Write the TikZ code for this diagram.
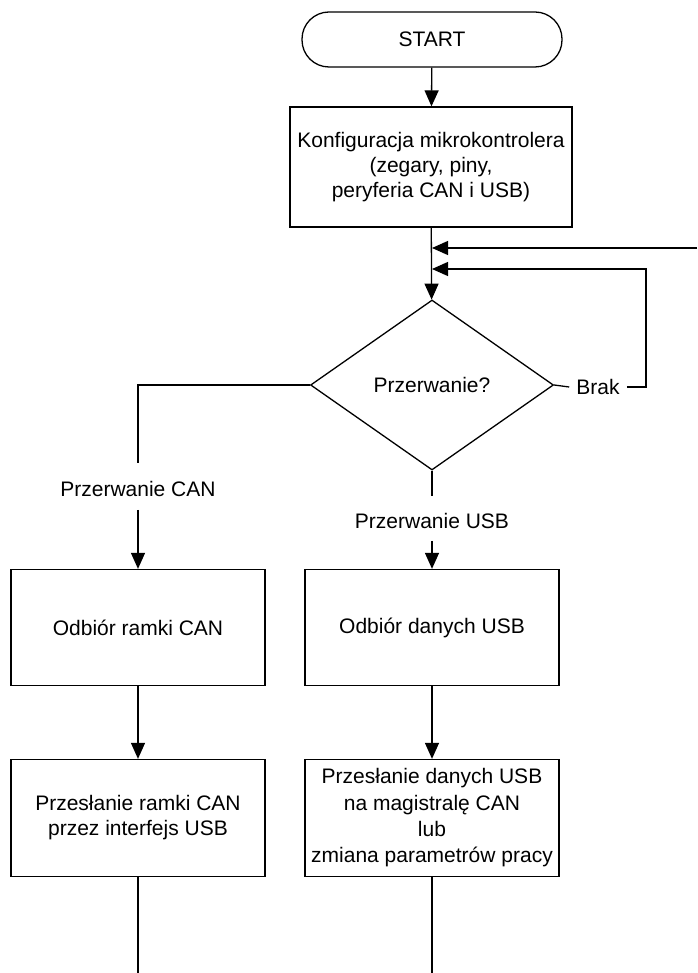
\documentclass[tikz,border=0pt]{standalone}
\usepackage{fontspec}
\setmainfont{Liberation Sans}
\usetikzlibrary{shapes.geometric,arrows.meta}
\begin{document}
\begin{tikzpicture}[x=1pt,y=-1pt,
  every node/.style={font=\fontsize{21}{25}\selectfont},
  ln/.style={line width=1.3pt},
  arr/.style={ln, -{Triangle[length=16pt,width=14pt]}},
  box/.style={draw, line width=1.3pt, rectangle, align=center, inner sep=0pt, minimum width=254pt, minimum height=116pt},
  lbl/.style={inner sep=0pt}]
\useasboundingbox (0,0) rectangle (697,973);
\node[draw, line width=1.3pt, rounded corners=27pt, minimum width=260pt, minimum height=55pt, inner sep=0pt] (start) at (432,39.5) {START};
\node[box, minimum width=282pt, minimum height=120pt] (cfg) at (431,167) {Konfiguracja mikrokontrolera\\(zegary, piny,\\peryferia CAN i USB)};
\node[draw, line width=1.3pt, diamond, aspect=1.43, minimum width=243pt, minimum height=170pt, inner sep=0pt] (dec) at (432,385) {Przerwanie?};
\node[lbl, inner xsep=7pt] (brak) at (598,387) {Brak};
\node[lbl] (lcan) at (138,489) {Przerwanie CAN};
\node[lbl] (lusb) at (432,521) {Przerwanie USB};
\node[box] (b1) at (138,627.5) {Odbiór ramki CAN};
\node[box] (b2) at (432,627.5) {Odbiór danych USB};
\node[box, minimum height=117pt] (b3) at (138,818) {Przesłanie ramki CAN\\przez interfejs USB};
\node[box, minimum height=117pt, font=\fontsize{21}{26.3}\selectfont] (b4) at (432,818) {Przesłanie danych USB\\na magistralę CAN\\lub\\zmiana parametrów pracy};
\coordinate (inR) at (697,248);
\coordinate (j1) at (432,248);
\coordinate (j2) at (432,269);
\coordinate (loopR) at (646,387);
\coordinate (endL) at (138,973);
\coordinate (endR) at (432,973);
\draw[arr] (start) -- (cfg);
\draw[arr] (cfg) -- (dec);
\draw[arr] (inR) -- (j1);
\draw[ln] (dec.east) -- (brak.west);
\draw[arr] (brak.east) -- (loopR) |- (j2);
\draw[ln] (dec.west) -| ([yshift=18pt]lcan.north);
\draw[arr] ([yshift=-13pt]lcan.south) -- (b1);
\draw[ln] (dec.south) -- ([yshift=17pt]lusb.north);
\draw[arr] ([yshift=-12pt]lusb.south) -- (b2);
\draw[arr] (b1) -- (b3);
\draw[arr] (b2) -- (b4);
\draw[ln] (b3) -- (endL);
\draw[ln] (b4) -- (endR);
\end{tikzpicture}
\end{document}
